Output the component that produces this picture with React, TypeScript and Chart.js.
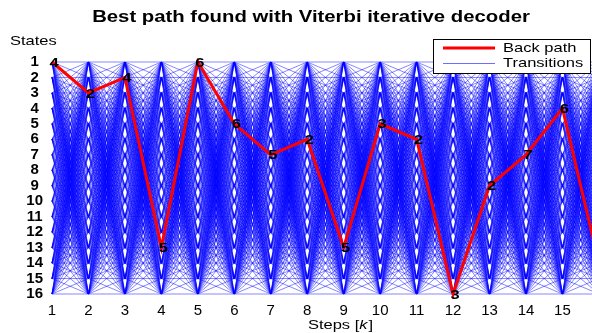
import React, { useEffect, useRef } from "react";
import { Chart, registerables } from "chart.js";

Chart.register(...registerables);

const chartTitle = "Best path found with Viterbi iterative decoder";
const xAxisLabel = "Steps [";
const xAxisLabelItalic = "k";
const xAxisLabelEnd = "]";
const yAxisLabel = "States";
const steps = [1, 2, 3, 4, 5, 6, 7, 8, 9, 10, 11, 12, 13, 14, 15, 16];
const states = [1, 2, 3, 4, 5, 6, 7, 8, 9, 10, 11, 12, 13, 14, 15, 16];
const pathStates = [1, 3, 2, 13, 1, 5, 7, 6, 13, 5, 6, 16, 9, 7, 4, 14];
const pathLabels = ["4", "2", "4", "5", "6", "6", "5", "2", "5", "3", "2", "3", "2", "7", "6", ""];
const xMin = 1;
const xMax = 15.81;
const legendLabels = ["Back path", "Transitions"];

const FONT = "'Liberation Sans', Arial, Helvetica, sans-serif";
const RED = "rgb(255,0,0)";
const BLUE_T = "rgba(0,0,255,0.6)";
const STRETCH = 1.27;

function buildTransitions() {
  const pts: { x: number; y: number | null }[] = [];
  for (let k = 0; k < steps.length - 1; k++) {
    for (const i of states) {
      for (const j of states) {
        pts.push({ x: steps[k], y: i });
        pts.push({ x: steps[k + 1], y: j });
        pts.push({ x: steps[k + 1], y: null });
      }
    }
  }
  return pts;
}

function textW(ctx: CanvasRenderingContext2D, font: string, t: string) {
  ctx.font = font;
  return ctx.measureText(t).width * STRETCH;
}

function drawText(ctx: CanvasRenderingContext2D, font: string, t: string, x: number, y: number) {
  ctx.save();
  ctx.font = font;
  ctx.textAlign = "left";
  ctx.textBaseline = "middle";
  ctx.translate(x, y);
  ctx.scale(STRETCH, 1);
  ctx.fillText(t, 0, 0);
  ctx.restore();
}

const overlayPlugin = {
  id: "overlay",
  afterDatasetsDraw(chart: any) {
    const ctx = chart.ctx;
    const xs = chart.scales.x;
    const ys = chart.scales.y;
    ctx.save();
    ctx.fillStyle = "#000";
    const f = `bold 13px ${FONT}`;
    pathLabels.forEach((lab, idx) => {
      if (!lab) return;
      const px = xs.getPixelForValue(steps[idx]);
      const py = ys.getPixelForValue(pathStates[idx]);
      const w = textW(ctx, f, lab);
      drawText(ctx, f, lab, px + 2 - w / 2, py + 1);
    });
    ctx.restore();
  },
  afterDraw(chart: any) {
    const ctx = chart.ctx;
    ctx.save();
    ctx.fillStyle = "#000";
    const tf = `bold 16px ${FONT}`;
    const tw = textW(ctx, tf, chartTitle);
    drawText(ctx, tf, chartTitle, 311 - tw / 2, 18);
    const nf = `13px ${FONT}`;
    const itf = `italic 13px ${FONT}`;
    drawText(ctx, nf, yAxisLabel, 10, 41);
    const w1 = textW(ctx, nf, xAxisLabel);
    const w2 = textW(ctx, itf, xAxisLabelItalic);
    const w3 = textW(ctx, nf, xAxisLabelEnd);
    const sx = 340 - (w1 + w2 + w3) / 2;
    drawText(ctx, nf, xAxisLabel, sx, 325);
    drawText(ctx, itf, xAxisLabelItalic, sx + w1, 325);
    drawText(ctx, nf, xAxisLabelEnd, sx + w1 + w2 + 1, 325);
    const ds = chart.data.datasets;
    ctx.fillStyle = "#fff";
    ctx.fillRect(433, 39, 158, 34);
    ctx.strokeStyle = "#000";
    ctx.lineWidth = 1;
    ctx.strokeRect(433.5, 39.5, 157, 34);
    ctx.beginPath();
    ctx.strokeStyle = ds[0].borderColor;
    ctx.lineWidth = 3;
    ctx.moveTo(443, 48);
    ctx.lineTo(495, 48);
    ctx.stroke();
    ctx.beginPath();
    ctx.strokeStyle = "rgb(110,110,255)";
    ctx.lineWidth = 1;
    ctx.moveTo(443, 63.5);
    ctx.lineTo(495, 63.5);
    ctx.stroke();
    ctx.fillStyle = "#000";
    drawText(ctx, nf, ds[0].label, 503, 48);
    drawText(ctx, nf, ds[1].label, 503, 63);
    ctx.restore();
  },
};

export default function App() {
  const ref = useRef<HTMLCanvasElement | null>(null);
  useEffect(() => {
    if (!ref.current) return;
    const chart = new Chart(ref.current, {
      type: "line",
      data: {
        datasets: [
          {
            label: legendLabels[0],
            data: steps.map((s, i) => ({ x: s, y: pathStates[i] })),
            borderColor: RED,
            borderWidth: 3,
            pointRadius: 0,
            clip: false as any,
            tension: 0,
          },
          {
            label: legendLabels[1],
            data: buildTransitions(),
            borderColor: BLUE_T,
            borderWidth: 0.8,
            pointRadius: 0,
            spanGaps: false,
            clip: false as any,
            tension: 0,
            segment: { borderColor: () => BLUE_T },
          },
        ],
      },
      options: {
        animation: false,
        responsive: false,
        events: [],
        layout: { padding: { top: 62, right: 0, left: 0, bottom: 0 } },
        plugins: {
          legend: { display: false },
          title: { display: false },
          tooltip: { enabled: false },
        },
        scales: {
          x: {
            type: "linear",
            min: xMin,
            max: xMax,
            grid: { display: false, drawTicks: false },
            border: { display: false },
            afterFit: (s: any) => {
              s.height = 39;
            },
            ticks: {
              stepSize: 1,
              includeBounds: false,
              padding: 8,
              color: "#000",
              font: { family: FONT, size: 15 },
              maxRotation: 0,
              autoSkip: false,
            },
          },
          y: {
            type: "linear",
            min: 1,
            max: 16,
            reverse: true,
            grid: { display: false, drawTicks: false },
            border: { display: false },
            afterFit: (s: any) => {
              s.width = 52;
            },
            ticks: {
              stepSize: 1,
              padding: 9,
              crossAlign: "center",
              color: "#000",
              font: { family: FONT, size: 15, weight: "bold" },
              autoSkip: false,
            },
          },
        },
      },
      plugins: [overlayPlugin],
    });
    return () => chart.destroy();
  }, []);
  return (
    <div style={{ position: "absolute", left: 0, top: 0, width: 592, height: 333, background: "#fff" }}>
      <canvas ref={ref} width={592} height={333} style={{ width: 592, height: 333, display: "block" }} />
    </div>
  );
}
